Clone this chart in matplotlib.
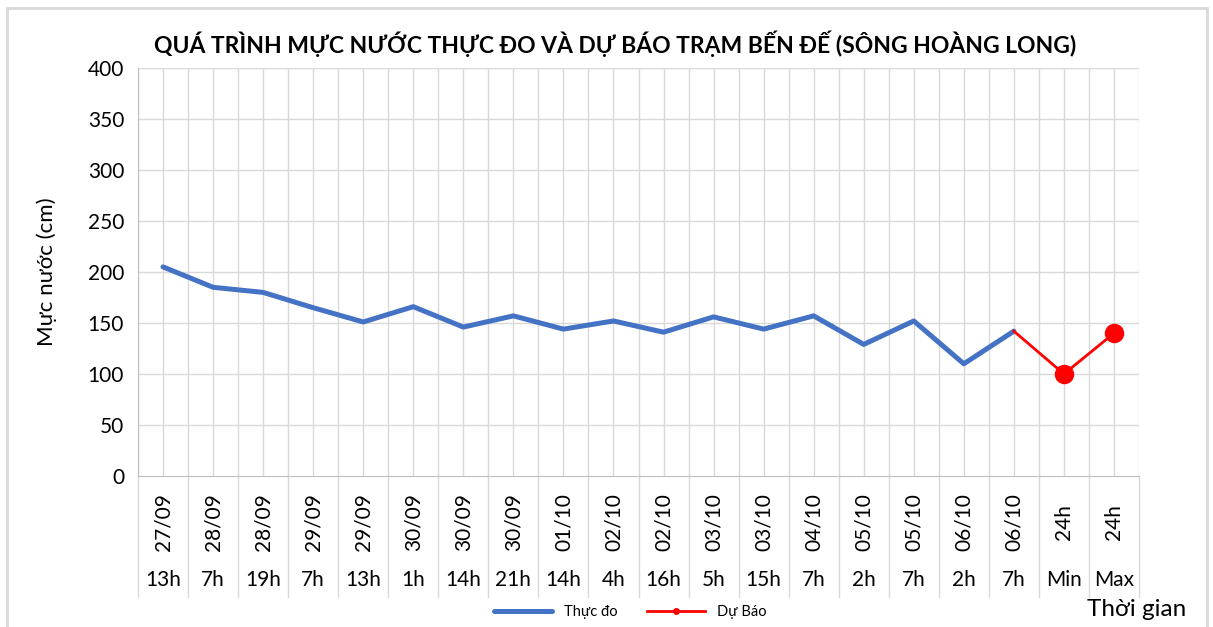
import matplotlib.pyplot as plt
from matplotlib.patches import Rectangle
import matplotlib.transforms as mtransforms

plt.rcParams['font.family'] = ['Lato', 'DejaVu Sans']

# data
ngay = ['27/09', '28/09', '28/09', '29/09', '29/09', '30/09', '30/09', '30/09', '01/10', '02/10',
        '02/10', '03/10', '03/10', '04/10', '05/10', '05/10', '06/10', '06/10', '24h', '24h']
gio = ['13h', '7h', '19h', '7h', '13h', '1h', '14h', '21h', '14h', '4h',
       '16h', '5h', '15h', '7h', '2h', '7h', '2h', '7h', 'Min', 'Max']
thuc_do = [205, 185, 180, 165, 151, 166, 146, 157, 144, 152,
           141, 156, 144, 157, 129, 152, 110, 142]
du_bao = [142, 100, 140]

fig = plt.figure(figsize=(12.13, 6.27), dpi=100)
ax = fig.add_axes([138/1213, 151/627, 1001/1213, 408/627])

x_td = list(range(len(thuc_do)))
x_db = list(range(len(thuc_do) - 1, len(ngay)))

ax.plot(x_td, thuc_do, color='#4472C4', lw=3.6, solid_capstyle='round', zorder=3, label='Thực đo')
ax.plot(x_db, du_bao, color='#FF0000', lw=2, zorder=4)
ax.plot(x_db[1:], du_bao[1:], 'o', color='#FF0000', ms=13, zorder=5)
# legend handle for the forecast series
ax.plot([], [], color='#FF0000', lw=2, marker='o', ms=4, label='Dự Báo')

ax.set_xlim(-0.5, len(ngay) - 0.5)
ax.set_ylim(0, 400)
ax.set_yticks(range(0, 401, 50))
ax.tick_params(axis='y', labelsize=15, length=0, pad=10)
ax.set_xticks([])
for v in range(50, 401, 50):
    ax.axhline(v, color='#d9d9d9', lw=1, zorder=1)
for k in range(2 * len(ngay) + 1):
    ax.axvline(k * 0.5 - 0.5, color='#d9d9d9', lw=1, zorder=1)
for s in ['top', 'right']:
    ax.spines[s].set_visible(False)
for s in ['left', 'bottom']:
    ax.spines[s].set_color('#bfbfbf')

ax.set_ylabel('Mực nước (cm)', fontsize=16, labelpad=22)

# two-level category labels below the axis
trans = mtransforms.blended_transform_factory(ax.transData, ax.transAxes)
for i in range(len(ngay)):
    ax.text(i, -0.113, ngay[i], rotation=90, ha='center', va='center', fontsize=15, transform=trans)
    ax.text(i, -0.255, gio[i], ha='center', va='center', fontsize=15, transform=trans)
for k in range(len(ngay) + 1):
    ax.plot([k - 0.5, k - 0.5], [0, -0.297], color='#d9d9d9', lw=1, transform=trans, clip_on=False)

fig.text(615/1213, 1 - 44/627, 'QUÁ TRÌNH MỰC NƯỚC THỰC ĐO VÀ DỰ BÁO TRẠM BẾN ĐẾ (SÔNG HOÀNG LONG)',
         ha='center', va='center', fontsize=16.5, fontweight='bold')
fig.text(1137/1213, 1 - 610/627, 'Thời gian', ha='center', va='center', fontsize=17.5)

fig.legend(loc='center', bbox_to_anchor=(630/1213, 1 - 612/627), ncol=2, frameon=False,
           fontsize=10.5, handlelength=4, columnspacing=2)

fig.patches.append(Rectangle((7/1213, -0.1), 1200/1213, 1 - 8/627 + 0.1, transform=fig.transFigure,
                             fill=False, edgecolor='#d9d9d9', lw=2))

fig.savefig('out.png', dpi=100)
